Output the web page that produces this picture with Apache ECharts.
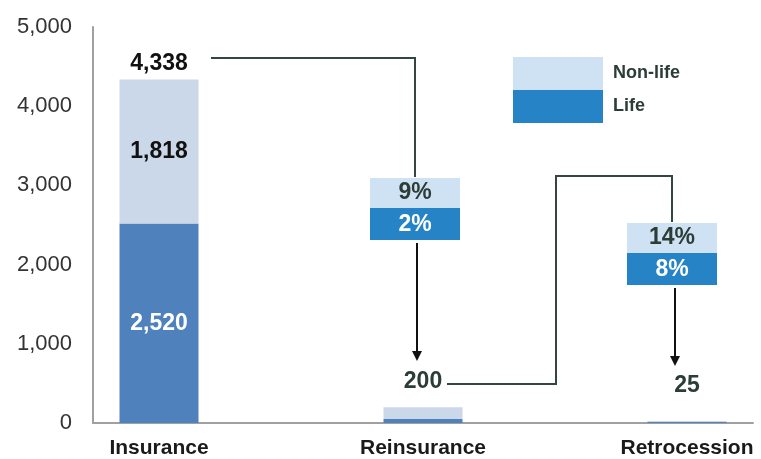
<!DOCTYPE html>
<html>
<head>
<meta charset="utf-8">
<script src="https://cdn.jsdelivr.net/npm/echarts@6/dist/echarts.min.js"></script>
<style>
  html, body { margin: 0; padding: 0; background: #fff; }
  #main { width: 761px; height: 459px; }
</style>
</head>
<body>
<div id="main"></div>
<script>
// data
const categories = ['Insurance', 'Reinsurance', 'Retrocession'];
const lifeValues = [2520, 50, 12];
const nonLifeValues = [1818, 150, 13];
const totals = [4338, 200, 25];
const yTicks = [0, 1000, 2000, 3000, 4000, 5000];
// share ceded at each step (annotation boxes)
const nonLifeShare = ['9%', '14%'];
const lifeShare = ['2%', '8%'];

const FONT = '"Liberation Sans", Arial, sans-serif';
const DARK = '#2b3d36';
const LINE = '#34463f';

// bars sit in every second slot of the axis, with empty slots between them
function spread(arr, blank) {
  let out = [];
  arr.forEach((v, i) => {
    if (i > 0) out.push(blank);
    out.push(v);
  });
  return out;
}
const axisCats = spread(categories, '');

let chart = echarts.init(document.getElementById('main'));

// box + arrow annotations (pixel layout)
function box(x, y, top, bottom) {
  return [
    { type: 'rect', shape: { x: x, y: y, width: 90, height: 30 }, style: { fill: '#cfe2f3' } },
    { type: 'rect', shape: { x: x, y: y + 30, width: 90, height: 32 }, style: { fill: '#2683c6' } },
    { type: 'text', x: x + 45, y: y + 15, style: { text: top, fill: DARK, font: 'bold 23px ' + FONT, align: 'center', verticalAlign: 'middle' } },
    { type: 'text', x: x + 45, y: y + 47, style: { text: bottom, fill: '#fff', font: 'bold 23px ' + FONT, align: 'center', verticalAlign: 'middle' } }
  ];
}
function arrow(x, y1, y2) {
  return [
    { type: 'line', shape: { x1: x, y1: y1, x2: x, y2: y2 - 8 }, style: { stroke: '#111', lineWidth: 2 } },
    { type: 'polygon', shape: { points: [[x - 5, y2 - 10], [x + 5, y2 - 10], [x, y2]] }, style: { fill: '#111' } }
  ];
}

let graphics = [
  { type: 'polyline', shape: { points: [[211, 58], [415, 58], [415, 177]] }, style: { stroke: LINE, lineWidth: 2, fill: null } },
  { type: 'polyline', shape: { points: [[447, 384], [556, 384], [556, 176], [672, 176], [672, 222]] }, style: { stroke: LINE, lineWidth: 2, fill: null } }
].concat(box(370, 178, nonLifeShare[0], lifeShare[0]))
 .concat(box(627, 223, nonLifeShare[1], lifeShare[1]))
 .concat(arrow(417, 243, 361))
 .concat(arrow(675, 288, 366));

let totalLabels = [
  { distance: 4, color: '#111' },
  { distance: 14, color: DARK },
  { distance: 24, color: DARK }
];

const fmt = p => Number(p.value).toLocaleString('en-US');

let option = {
  animation: false,
  grid: { left: 93, right: 8, top: 27, bottom: 36 },
  legend: {
    orient: 'vertical',
    left: 513, top: 57,
    padding: 0,
    itemWidth: 90, itemHeight: 33, itemGap: 0,
    icon: 'rect',
    textStyle: { fontFamily: FONT, fontSize: 18, fontWeight: 'bold', color: DARK, padding: [0, 0, 0, 5] },
    selectedMode: false,
    data: [
      { name: 'Non-life', itemStyle: { color: '#cfe2f3' } },
      { name: 'Life', itemStyle: { color: '#2683c6' } }
    ]
  },
  xAxis: {
    type: 'category',
    data: axisCats,
    axisTick: { show: false },
    axisLine: { lineStyle: { color: '#a0a0a0', width: 2 } },
    axisLabel: { interval: 0, fontFamily: FONT, fontSize: 21, fontWeight: 'bold', color: '#1a1a1a', margin: 15 }
  },
  yAxis: {
    type: 'value',
    min: yTicks[0], max: yTicks[yTicks.length - 1], interval: 1000,
    splitLine: { show: false },
    axisTick: { show: false },
    axisLine: { show: true, lineStyle: { color: '#a0a0a0', width: 2 } },
    axisLabel: { fontFamily: FONT, fontSize: 22, color: '#333', margin: 21 }
  },
  series: [
    {
      name: 'Life', type: 'bar', stack: 'total', barWidth: 79,
      itemStyle: { color: '#4f81bd' },
      data: spread(lifeValues, null).map((v, i) => v === null ? null : {
        value: v,
        label: { show: i === 0, position: 'inside', color: '#fff', fontFamily: FONT, fontSize: 23, fontWeight: 'bold', formatter: fmt }
      })
    },
    {
      name: 'Non-life', type: 'bar', stack: 'total', barWidth: 79,
      itemStyle: { color: '#cbd8ea' },
      data: spread(nonLifeValues, null).map((v, i) => v === null ? null : {
        value: v,
        label: { show: i === 0, position: 'inside', color: '#111', fontFamily: FONT, fontSize: 23, fontWeight: 'bold', formatter: fmt }
      })
    },
    {
      name: 'Total', type: 'scatter', symbolSize: 0,
      itemStyle: { opacity: 1 },
      data: spread(totals.map((v, i) => ({
        value: v,
        label: { show: true, position: 'top', distance: totalLabels[i].distance, color: totalLabels[i].color,
          opacity: 1, fontFamily: FONT, fontSize: 23, fontWeight: 'bold', formatter: fmt }
      })), null)
    }
  ],
  graphic: graphics
};

chart.setOption(option);
</script>
</body>
</html>
